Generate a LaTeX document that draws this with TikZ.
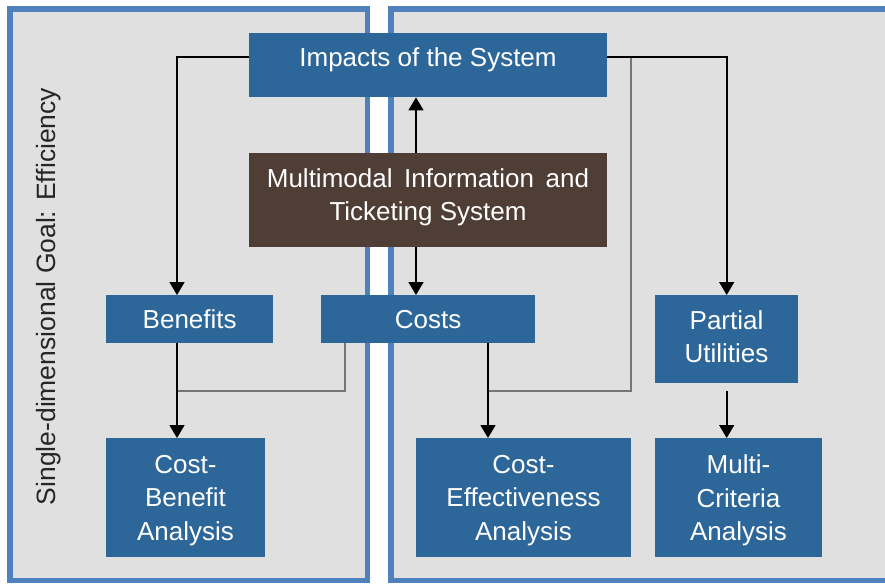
\documentclass[tikz,border=0pt]{standalone}
\usepackage{fontspec}
\setmainfont{Liberation Sans}
\usetikzlibrary{arrows.meta}
\definecolor{boxblue}{HTML}{2D6699}
\definecolor{frameblue}{HTML}{4F81BD}
\definecolor{panelgray}{HTML}{E0E0E0}
\definecolor{sysbrown}{HTML}{4E3E36}
\definecolor{linkgray}{HTML}{767676}
\begin{document}
\begin{tikzpicture}[x=1pt,y=-1pt,
  panel/.style={fill=panelgray,draw=frameblue,line width=5.5pt},
  bluebox/.style={fill=boxblue,draw=none,inner sep=0pt,text=white,align=center,
    font=\fontsize{26}{33.5}\selectfont},
  boxlabel/.style={inner sep=0pt,text=white,align=center,
    font=\fontsize{26}{33.5}\selectfont},
  arr/.style={draw=black,line width=1.6pt,-{Triangle[length=13pt,width=15pt]}},
  link/.style={draw=linkgray,line width=2pt}]
\useasboundingbox (0,0) rectangle (885,584);
\clip (0,0) rectangle (885,584);
\fill[white] (0,0) rectangle (885,584);

% the two panels
\draw[panel] (9.75,8.75) rectangle (367.25,580.25);
\draw[panel] (390.75,8.75) rectangle (905,580.25);

% side caption
\node[rotate=90,inner sep=0pt,text=black!85,font=\fontsize{26.5}{30}\selectfont]
  (goal) at (49,296.5) {Single-dimensional Goal: Efficiency};

% boxes
\node[bluebox,anchor=north west,minimum width=358pt,minimum height=64pt] (imp) at (249,33) {};
\node[boxlabel] (impt) at (428,60) {Impacts of the System};
\node[bluebox,fill=sysbrown,anchor=north west,minimum width=358pt,minimum height=94pt] (mm) at (249,153) {};
\node[boxlabel] (mmt) at (428,197.5) {Multimodal\, Information\, and\\Ticketing System};
\node[bluebox,anchor=north west,minimum width=167pt,minimum height=48pt] (ben) at (106,295) {Benefits};
\node[bluebox,anchor=north west,minimum width=214pt,minimum height=48pt] (cost) at (321,295) {Costs};
\node[bluebox,anchor=north west,minimum width=143pt,minimum height=88pt] (pu) at (655,295) {};
\node[boxlabel] (put) at (726.5,336.5) {Partial\\Utilities};
\node[bluebox,anchor=north west,minimum width=159pt,minimum height=119pt] (cba) at (106,438) {};
\node[boxlabel] (cbat) at (185.5,500.5) {Cost-\\Benefit\\Analysis};
\node[bluebox,anchor=north west,minimum width=215pt,minimum height=119pt] (cea) at (416,438) {};
\node[boxlabel] (ceat) at (523.5,500.5) {Cost-\\Effectiveness\\Analysis};
\node[bluebox,anchor=north west,minimum width=167pt,minimum height=119pt] (mca) at (655,438) {};
\node[boxlabel] (mcat) at (738.5,500.5) {Multi-\\Criteria\\Analysis};

% routing guides
\coordinate (yT) at (0,57);
\coordinate (yJ) at (0,391);
\coordinate (xL) at (177,0);
\coordinate (xM) at (416,0);
\coordinate (xC) at (488,0);
\coordinate (xG) at (345,0);

% gray joining lines
\draw[link] (cost.south -| xG) |- (yJ -| xL);
\draw[link] (yT -| cea.east) |- (yJ -| xC);

% arrows
\draw[arr] (imp.west |- yT) -| (ben.north -| xL);
\draw[arr] (imp.east |- yT) -| (pu.north);
\draw[arr] (mm.north -| xM) -- (imp.south -| xM);
\draw[arr] (mm.south -| xM) -- (cost.north -| xM);
\draw[arr] (ben.south -| xL) -- (cba.north -| xL);
\draw[arr] (cost.south -| xC) -- (cea.north -| xC);
\draw[arr] (pu.south |- yJ) -- (mca.north -| pu.south);
\end{tikzpicture}
\end{document}
